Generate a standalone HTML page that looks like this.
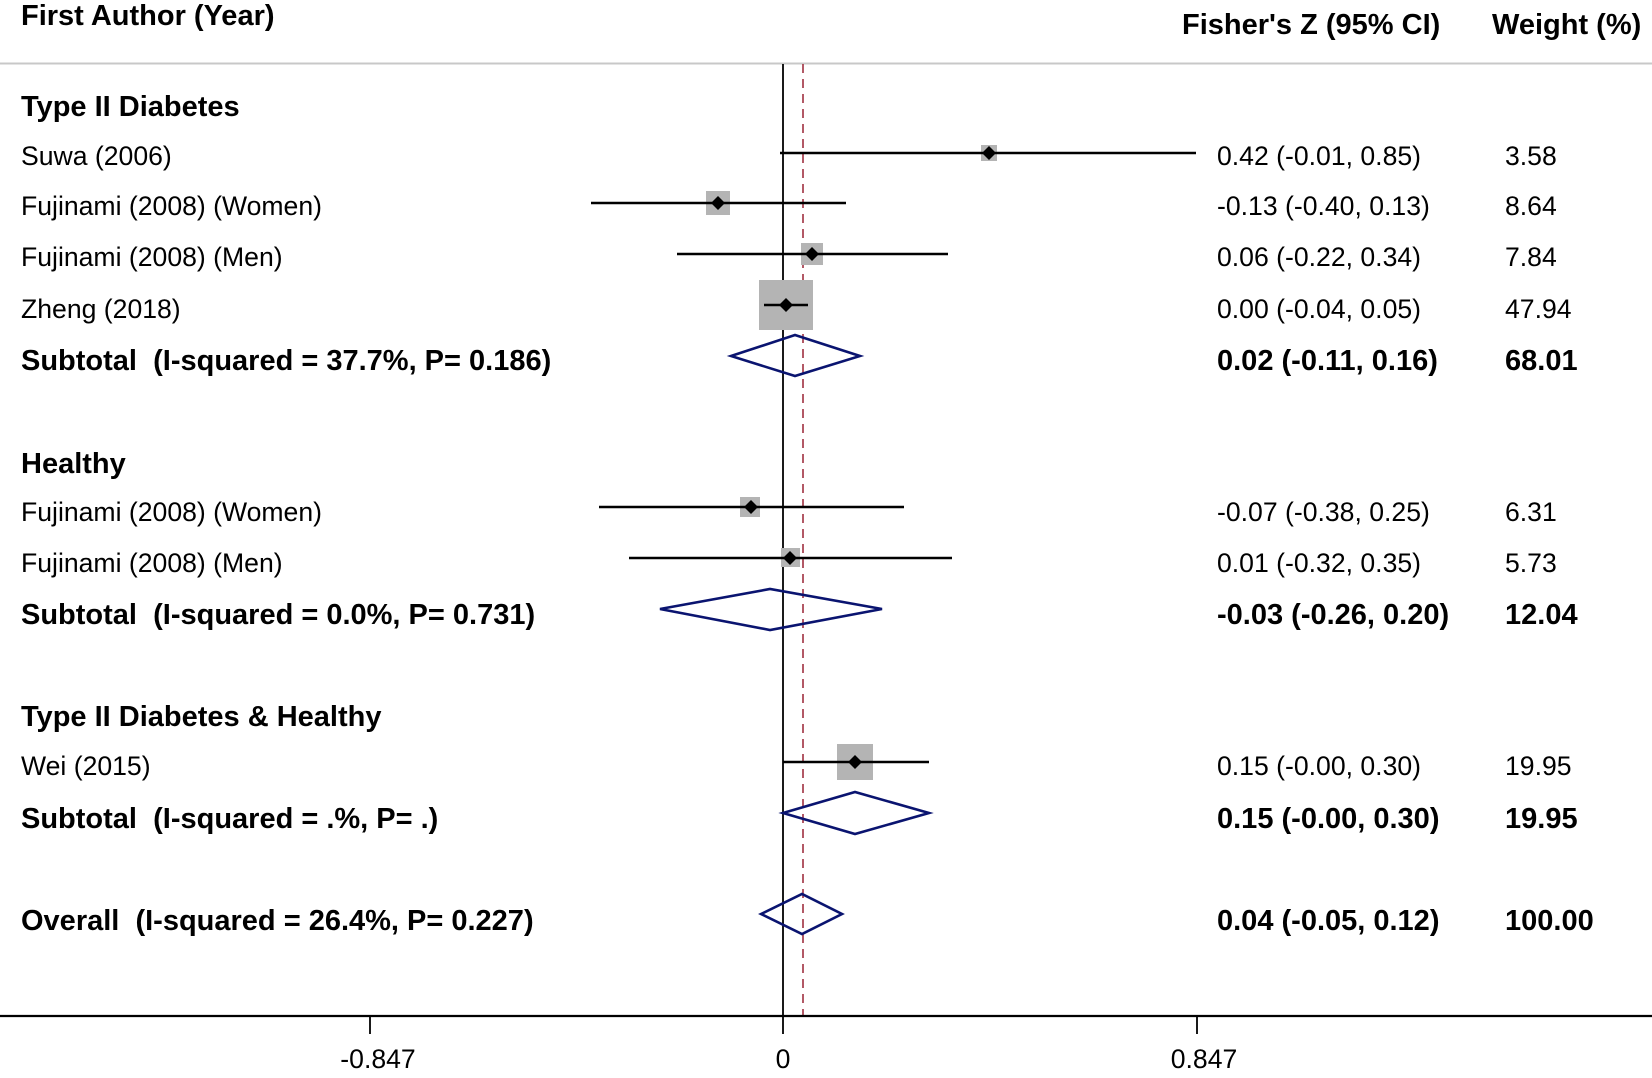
<!DOCTYPE html>
<html><head><meta charset="utf-8"><style>
html,body{margin:0;padding:0;background:#fff}
svg{display:block}
text{font-family:"Liberation Sans",Arial,sans-serif;font-size:26.6px;fill:#000;dominant-baseline:central;white-space:pre}
.b{font-weight:bold;font-size:29px}
.h{font-weight:bold;font-size:29px}
</style></head><body>
<svg width="1652" height="1078" viewBox="0 0 1652 1078" xmlns="http://www.w3.org/2000/svg" xml:space="preserve">
<text x="21" y="16" class="h">First Author (Year)</text>
<text x="1182" y="25" class="h">Fisher's Z (95% CI)</text>
<text x="1492" y="25" class="h">Weight (%)</text>
<line x1="0" y1="63.5" x2="1652" y2="63.5" stroke="#c8c8c8" stroke-width="2"/>

<line x1="783" y1="64" x2="783" y2="1034" stroke="#000" stroke-width="1.8"/>
<line x1="803" y1="64" x2="803" y2="1016" stroke="#a03040" stroke-width="1.6" stroke-dasharray="9,6"/>
<line x1="0" y1="1016" x2="1652" y2="1016" stroke="#000" stroke-width="2.2"/>
<line x1="370" y1="1016" x2="370" y2="1034" stroke="#000" stroke-width="1.8"/>
<line x1="1197" y1="1016" x2="1197" y2="1034" stroke="#000" stroke-width="1.8"/>
<text x="378" y="1059" text-anchor="middle" font-size="26">-0.847</text>
<text x="783" y="1059" text-anchor="middle" font-size="26">0</text>
<text x="1204" y="1059" text-anchor="middle" font-size="26">0.847</text>

<text x="21" y="107" class="b">Type II Diabetes</text>
<text x="21" y="156">Suwa (2006)</text>
<text x="21" y="206">Fujinami (2008) (Women)</text>
<text x="21" y="257">Fujinami (2008) (Men)</text>
<text x="21" y="309">Zheng (2018)</text>
<text x="21" y="361" class="b">Subtotal  (I-squared = 37.7%, P= 0.186)</text>
<text x="21" y="464" class="b">Healthy</text>
<text x="21" y="512">Fujinami (2008) (Women)</text>
<text x="21" y="563">Fujinami (2008) (Men)</text>
<text x="21" y="615" class="b">Subtotal  (I-squared = 0.0%, P= 0.731)</text>
<text x="21" y="717" class="b">Type II Diabetes &amp; Healthy</text>
<text x="21" y="766">Wei (2015)</text>
<text x="21" y="819" class="b">Subtotal  (I-squared = .%, P= .)</text>
<text x="21" y="921" class="b">Overall  (I-squared = 26.4%, P= 0.227)</text>

<text x="1217" y="156">0.42 (-0.01, 0.85)</text><text x="1505" y="156">3.58</text>
<text x="1217" y="206">-0.13 (-0.40, 0.13)</text><text x="1505" y="206">8.64</text>
<text x="1217" y="257">0.06 (-0.22, 0.34)</text><text x="1505" y="257">7.84</text>
<text x="1217" y="309">0.00 (-0.04, 0.05)</text><text x="1505" y="309">47.94</text>
<text x="1217" y="361" class="b">0.02 (-0.11, 0.16)</text><text x="1505" y="361" class="b">68.01</text>
<text x="1217" y="512">-0.07 (-0.38, 0.25)</text><text x="1505" y="512">6.31</text>
<text x="1217" y="563">0.01 (-0.32, 0.35)</text><text x="1505" y="563">5.73</text>
<text x="1217" y="615" class="b">-0.03 (-0.26, 0.20)</text><text x="1505" y="615" class="b">12.04</text>
<text x="1217" y="766">0.15 (-0.00, 0.30)</text><text x="1505" y="766">19.95</text>
<text x="1217" y="819" class="b">0.15 (-0.00, 0.30)</text><text x="1505" y="819" class="b">19.95</text>
<text x="1217" y="921" class="b">0.04 (-0.05, 0.12)</text><text x="1505" y="921" class="b">100.00</text>

<g fill="#b4b4b4">
<rect x="981" y="145" width="16" height="16"/>
<rect x="706" y="191" width="24" height="24"/>
<rect x="801" y="243" width="22" height="22"/>
<rect x="759" y="280" width="54" height="50"/>
<rect x="740" y="497" width="20" height="20"/>
<rect x="781" y="548" width="19" height="19"/>
<rect x="837" y="744" width="36" height="36"/>
</g>
<g stroke="#000" stroke-width="2.6">
<line x1="780" y1="153" x2="1196" y2="153"/>
<line x1="591" y1="203" x2="846" y2="203"/>
<line x1="677" y1="254" x2="948" y2="254"/>
<line x1="764" y1="305" x2="808" y2="305"/>
<line x1="599" y1="507" x2="904" y2="507"/>
<line x1="629" y1="558" x2="952" y2="558"/>
<line x1="783" y1="762" x2="929" y2="762"/>
</g>
<g fill="#000">
<path d="M989 146 l7 7 -7 7 -7 -7z"/>
<path d="M718 196 l7 7 -7 7 -7 -7z"/>
<path d="M812 247 l7 7 -7 7 -7 -7z"/>
<path d="M786 298 l7 7 -7 7 -7 -7z"/>
<path d="M751 500 l7 7 -7 7 -7 -7z"/>
<path d="M790 551 l7 7 -7 7 -7 -7z"/>
<path d="M855 755 l7 7 -7 7 -7 -7z"/>
</g>
<g fill="none" stroke="#0a1470" stroke-width="2.6">
<path d="M731 356 L795 335 L860 356 L795 376 Z"/>
<path d="M660 609 L770 589 L882 609 L770 630 Z"/>
<path d="M783 813 L855 792 L929 813 L855 834 Z"/>
<path d="M761 914 L802 894 L842 914 L802 934 Z"/>
</g>
</svg>
</body></html>
